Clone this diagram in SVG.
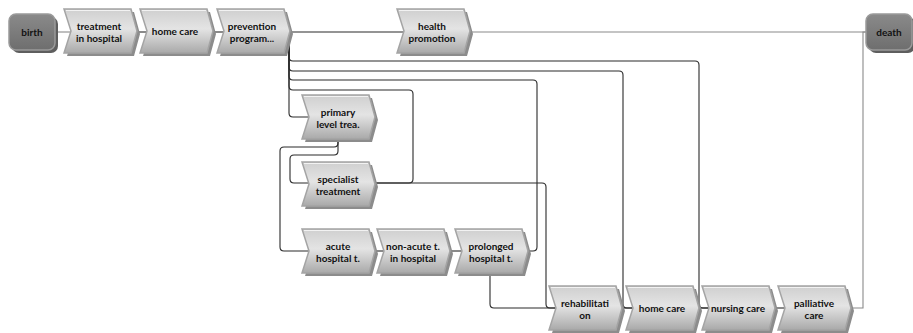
<svg xmlns="http://www.w3.org/2000/svg" width="913" height="333" viewBox="0 0 913 333">
<defs>
<linearGradient id="cg" x1="0" y1="0" x2="0" y2="1">
<stop offset="0" stop-color="#cfcfcf"/>
<stop offset="0.45" stop-color="#e4e4e4"/>
<stop offset="1" stop-color="#a9a9a9"/>
</linearGradient>
<linearGradient id="eg" x1="0" y1="0" x2="0" y2="1">
<stop offset="0" stop-color="#8a8a8a"/>
<stop offset="1" stop-color="#6e6e6e"/>
</linearGradient>
<g id="chev">
<path d="M3,3 H70 L76,25 L70,47 H3 L10,25 Z" fill="#8c8c8c"/>
<path d="M0,0 H67 L73,22 L67,44 H0 L7,22 Z" fill="url(#cg)" stroke="#a4a4a4" stroke-width="1.5"/>
<path d="M2,1.5 H66" stroke="#f2f2f2" stroke-width="1" fill="none"/>
</g>
<g id="evt">
<rect x="3" y="3" width="46" height="36" rx="7" fill="#5e5e5e"/>
<rect x="0" y="0" width="46" height="36" rx="7" fill="url(#eg)" stroke="#9a9a9a" stroke-width="1.5"/>
</g>
</defs>
<style>
.t{font-family:Lato,"Open Sans",sans-serif;font-weight:bold;font-size:10px;fill:#111;text-anchor:middle}
.c{fill:none;stroke:#2a2a2a;stroke-width:1.1}
.g{fill:none;stroke:#8a8a8a;stroke-width:1.1}
</style>
<g id="connectors">
<path class="g" d="M55,32 H71"/>
<path class="c" d="M137,32 H147"/>
<path class="c" d="M213,32 H224"/>
<path class="c" d="M290,32 H404"/>
<path class="g" d="M470,32 H867"/>
<path class="c" d="M289,32 V57 Q289,61 293,61 H695 Q699,61 699,65 V304 Q699,308 703,308 H709"/>
<path class="c" d="M289,32 V67 Q289,71 293,71 H619 Q623,71 623,75 V304 Q623,308 627,308 H633"/>
<path class="c" d="M289,32 V76 Q289,80 293,80 H533 Q537,80 537,84 V247 Q537,251 533,251 H526"/>
<path class="c" d="M289,32 V86 Q289,90 293,90 H409 Q413,90 413,94 V179 Q413,183 409,183 H372"/>
<path class="c" d="M289,32 V113 Q289,117 293,117 H309"/>
<path class="c" d="M338,140 V151 Q338,155 334,155 H294 Q290,155 290,159 V179 Q290,183 294,183 H309"/>
<path class="c" d="M338,140 V143 Q338,147 334,147 H284 Q280,147 280,151 V247 Q280,251 284,251 H309"/>
<path class="c" d="M372,183 H542 Q546,183 546,187 V304 Q546,308 550,308 H556"/>
<path class="c" d="M375,251 H384"/>
<path class="c" d="M450,251 H462"/>
<path class="c" d="M490,273 V304 Q490,308 494,308 H556"/>
<path class="c" d="M622,308 H633"/>
<path class="c" d="M699,308 H709"/>
<path class="c" d="M775,308 H785"/>
<path class="g" d="M851,308 H863 V32 H867"/>
</g>
<g id="birth"><use href="#evt" x="9" y="14"/><text class="t" x="32" y="35.5">birth</text></g>
<g id="death"><use href="#evt" x="866" y="14"/><text class="t" x="889" y="35.5">death</text></g>
<g id="treatment"><use href="#chev" x="64" y="9"/><text class="t" x="99" y="29.5">treatment</text><text class="t" x="99" y="41.5">in hospital</text></g>
<g id="homecare1"><use href="#chev" x="140" y="9"/><text class="t" x="175" y="35">home care</text></g>
<g id="prevention"><use href="#chev" x="217" y="9"/><text class="t" x="252" y="29.5">prevention</text><text class="t" x="252" y="41.5">program...</text></g>
<g id="health"><use href="#chev" x="397" y="9"/><text class="t" x="432" y="29.5">health</text><text class="t" x="432" y="41.5">promotion</text></g>
<g id="primary"><use href="#chev" x="302" y="95"/><text class="t" x="338" y="115.5">primary</text><text class="t" x="338" y="127.5">level trea.</text></g>
<g id="specialist"><use href="#chev" x="302" y="162"/><text class="t" x="338" y="182.5">specialist</text><text class="t" x="338" y="194.5">treatment</text></g>
<g id="acute"><use href="#chev" x="302" y="229"/><text class="t" x="338" y="249.5">acute</text><text class="t" x="338" y="261.5">hospital t.</text></g>
<g id="nonacute"><use href="#chev" x="377" y="229"/><text class="t" x="413" y="249.5">non-acute t.</text><text class="t" x="413" y="261.5">in hospital</text></g>
<g id="prolonged"><use href="#chev" x="455" y="229"/><text class="t" x="491" y="249.5">prolonged</text><text class="t" x="491" y="261.5">hospital t.</text></g>
<g id="rehab"><use href="#chev" x="549" y="286"/><text class="t" x="585" y="306.5">rehabilitati</text><text class="t" x="585" y="318.5">on</text></g>
<g id="homecare2"><use href="#chev" x="626" y="286"/><text class="t" x="662" y="312">home care</text></g>
<g id="nursing"><use href="#chev" x="702" y="286"/><text class="t" x="738" y="312">nursing care</text></g>
<g id="palliative"><use href="#chev" x="778" y="286"/><text class="t" x="814" y="306.5">palliative</text><text class="t" x="814" y="318.5">care</text></g>
</svg>
